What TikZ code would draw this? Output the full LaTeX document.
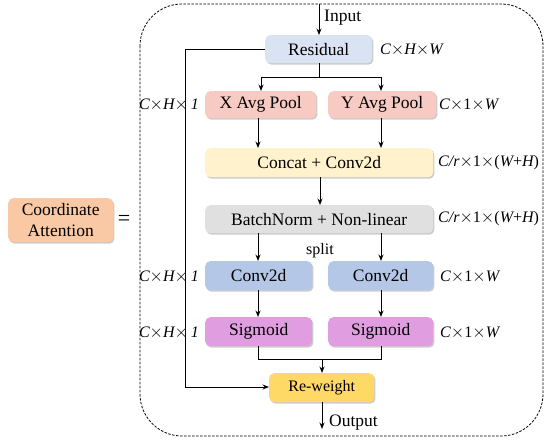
\documentclass[tikz,border=0pt]{standalone}
\usepackage{fontspec}
\setmainfont{Liberation Serif}
\usetikzlibrary{shadows,arrows.meta}
\definecolor{cres}{HTML}{DAE3F3}
\definecolor{cpool}{HTML}{F7CBC4}
\definecolor{ccat}{HTML}{FFF2CC}
\definecolor{cbn}{HTML}{E0E0E0}
\definecolor{cconv}{HTML}{B4C7E7}
\definecolor{csig}{HTML}{E09EE0}
\definecolor{crew}{HTML}{FFD966}
\definecolor{cca}{HTML}{F9C9A5}
\tikzset{
  blk/.style={rounded corners=5pt, inner sep=0pt, anchor=north west,
    drop shadow={shadow xshift=1.2pt, shadow yshift=-1.5pt, opacity=0.2, fill=black},
    font=\fontsize{17.5}{20}\selectfont},
  dim/.style={font=\fontsize{16}{18}\selectfont\itshape, inner sep=0pt},
  arr/.style={-{Stealth[length=6.5pt,width=5pt]}, line width=0.9pt},
  ln/.style={line width=0.9pt},
}
\begin{document}
\begin{tikzpicture}[x=1pt,y=-1pt]
\useasboundingbox (0,0) rectangle (550,443);
\draw[dash pattern=on 2.5pt off 1.5pt, line width=0.8pt, rounded corners=42pt] (140,4) rectangle (543,436);

\node[blk, fill=cca, minimum width=105pt, minimum height=44pt, align=center, font=\fontsize{17.5}{21}\selectfont] (ca) at (8,198) {Coordinate\\Attention};
\node[font=\fontsize{22}{22}\selectfont, inner sep=0pt] (eq) at (124,220) {=};

\node[blk, fill=cres, minimum width=107pt, minimum height=28pt] (res) at (265,35) {Residual};
\node[blk, fill=cpool, minimum width=111pt, minimum height=27pt] (xp) at (205,91) {X Avg Pool};
\node[blk, fill=cpool, minimum width=108pt, minimum height=27pt] (yp) at (328,91) {Y Avg Pool};
\node[blk, fill=ccat, minimum width=228pt, minimum height=29pt] (cat) at (205,148) {Concat + Conv2d};
\node[blk, fill=cbn, minimum width=228pt, minimum height=28pt] (bn) at (205,205) {BatchNorm + Non-linear};
\node[blk, fill=cconv, minimum width=107pt, minimum height=29pt] (c1) at (205,261) {Conv2d};
\node[blk, fill=cconv, minimum width=105pt, minimum height=29pt] (c2) at (328,261) {Conv2d};
\node[blk, fill=csig, minimum width=107pt, minimum height=29pt] (s1) at (205,317) {Sigmoid};
\node[blk, fill=csig, minimum width=105pt, minimum height=29pt] (s2) at (328,317) {Sigmoid};
\node[blk, fill=crew, minimum width=105pt, minimum height=29pt, font=\fontsize{16}{18}\selectfont] (rw) at (269,373) {Re-weight};

% labels
\node[dim, anchor=west] (l1) at (380,50) {C$\times$H$\times$W};
\node[dim, anchor=east] (l2) at (199,105) {C$\times$H$\times$\,1};
\node[dim, anchor=west] (l3) at (439,105) {C$\times$\upshape 1\itshape$\times$W};
\node[dim, anchor=west] (l4) at (438,163) {C/r$\times$\upshape 1$\times$(\itshape W\upshape +\itshape H\upshape )};
\node[dim, anchor=west] (l5) at (438,219) {C/r$\times$\upshape 1$\times$(\itshape W\upshape +\itshape H\upshape )};
\node[dim, anchor=east] (l6) at (199,277) {C$\times$H$\times$\,1};
\node[dim, anchor=west] (l7) at (440,277) {C$\times$\upshape 1\itshape$\times$W};
\node[dim, anchor=east] (l8) at (199,333) {C$\times$H$\times$\,1};
\node[dim, anchor=west] (l9) at (440,333) {C$\times$\upshape 1\itshape$\times$W};
\node[font=\fontsize{16}{18}\selectfont, inner sep=0pt] (split) at (320,251) {split};

% input / output
\coordinate (in) at (319,4);
\node[font=\fontsize{17.5}{20}\selectfont, anchor=west, inner sep=0pt] (intext) at (324,18) {Input};
\draw[arr] (in) -- (res.north -| in);
\coordinate (out) at (322,429);
\node[font=\fontsize{17.5}{20}\selectfont, anchor=west, inner sep=0pt] (outtext) at (329,423) {Output};
\draw[arr] (rw.south -| out) -- (out);

% residual split
\coordinate (sp) at (319,77);
\draw[ln] (res.south -| sp) -- (sp);
\draw[arr] (sp) -| (xp.north -| 261,0);
\draw[arr] (sp) -| (yp.north -| 381,0);
\draw[arr] (xp.south -| 258,0) -- (cat.north -| 258,0);
\draw[arr] (yp.south -| 381,0) -- (cat.north -| 381,0);
\draw[arr] (cat.south -| 320,0) -- (bn.north -| 320,0);
\draw[arr] (bn.south -| 258,0) -- (c1.north -| 258,0);
\draw[arr] (bn.south -| 381,0) -- (c2.north -| 381,0);
\draw[arr] (c1.south -| 258,0) -- (s1.north -| 258,0);
\draw[arr] (c2.south -| 381,0) -- (s2.north -| 381,0);
\coordinate (mg) at (322,359);
\draw[ln] (s1.south -| 258,0) |- (mg);
\draw[ln] (s2.south -| 381,0) |- (mg);
\draw[arr] (mg) -- (rw.north -| mg);
% skip
\draw[arr] (res.west) -| (185,387) -- (rw.west |- 0,387);
\end{tikzpicture}
\end{document}
